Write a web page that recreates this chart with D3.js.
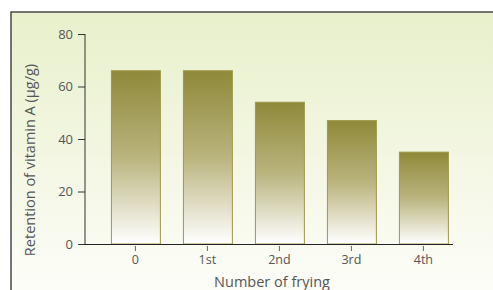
<!DOCTYPE html>
<html>
<head>
<meta charset="utf-8">
<script src="https://cdn.jsdelivr.net/npm/d3@7"></script>
<style>
  body { margin: 0; background: #fff; }
  text { font-family: "Open Sans", sans-serif; fill: #555; font-weight: 400; }
</style>
</head>
<body>
<div id="chart"></div>
<script>
// values
let fryings = ["0", "1st", "2nd", "3rd", "4th"];
let retention = [66, 66, 54, 47, 35];
let yTicks = [0, 20, 40, 60, 80];

let W = 493, H = 290;
let svg = d3.select("#chart").append("svg")
  .attr("width", W)
  .attr("height", H);

let defs = svg.append("defs");
let bg = defs.append("linearGradient").attr("id", "bg")
  .attr("x1", 0).attr("y1", 0).attr("x2", 0).attr("y2", 1);
bg.append("stop").attr("offset", "0%").attr("stop-color", "#e8f0cb");
bg.append("stop").attr("offset", "100%").attr("stop-color", "#fdfdf8");

let barGrad = defs.append("linearGradient").attr("id", "barGrad")
  .attr("x1", 0).attr("y1", 0).attr("x2", 0).attr("y2", 1);
barGrad.append("stop").attr("offset", "0%").attr("stop-color", "#8f893a");
barGrad.append("stop").attr("offset", "50%").attr("stop-color", "#bab47e");
barGrad.append("stop").attr("offset", "100%").attr("stop-color", "#ffffff");

// panel
svg.append("rect")
  .attr("x", 11).attr("y", 12)
  .attr("width", W - 11).attr("height", H - 12)
  .attr("fill", "url(#bg)");
svg.append("path")
  .attr("d", "M11,290 V12 H493")
  .attr("fill", "none")
  .attr("stroke", "#4a4a48")
  .attr("stroke-width", 1.5);

let x = d3.scaleBand()
  .domain(fryings)
  .range([85, 473.8])
  .paddingInner(0.32)
  .paddingOuter(0.36);

let y = d3.scaleLinear()
  .domain([0, 80])
  .range([244, 34]);

// bars
svg.selectAll("rect.bar")
  .data(retention)
  .enter().append("rect")
  .attr("class", "bar")
  .attr("x", (d, i) => x(fryings[i]) + 0.5)
  .attr("y", d => y(d))
  .attr("width", x.bandwidth())
  .attr("height", d => y(0) - y(d))
  .attr("fill", "url(#barGrad)")
  .attr("stroke", "#9e9848")
  .attr("stroke-width", 1);

// y axis
let yAxis = svg.append("g")
  .attr("transform", "translate(85,0)")
  .call(d3.axisLeft(y).tickValues(yTicks).tickSize(7).tickPadding(5));
yAxis.select(".domain").attr("stroke", "#333").attr("d", "M0,34V244.5");
yAxis.selectAll(".tick line").attr("stroke", "#333");
yAxis.selectAll(".tick text").attr("font-size", 13).attr("fill", "#5a5a5a");

// x axis
let xAxis = svg.append("g")
  .attr("transform", "translate(0,244)")
  .call(d3.axisBottom(x).tickSize(7).tickPadding(4));
xAxis.select(".domain").attr("stroke", "#222").attr("d", "M85,0.5H453");
xAxis.selectAll(".tick line").attr("stroke", "#666").attr("y1", 2);
xAxis.selectAll(".tick text").attr("font-size", 12.5).attr("fill", "#5a5a5a");

// axis titles
svg.append("text")
  .attr("transform", "translate(35,160) rotate(-90)")
  .attr("text-anchor", "middle")
  .attr("font-size", 14.5)
  .text("Retention of vitamin A (μg/g)");

svg.append("text")
  .attr("x", 272)
  .attr("y", 287)
  .attr("text-anchor", "middle")
  .attr("font-size", 14.5)
  .text("Number of frying");
</script>
</body>
</html>
